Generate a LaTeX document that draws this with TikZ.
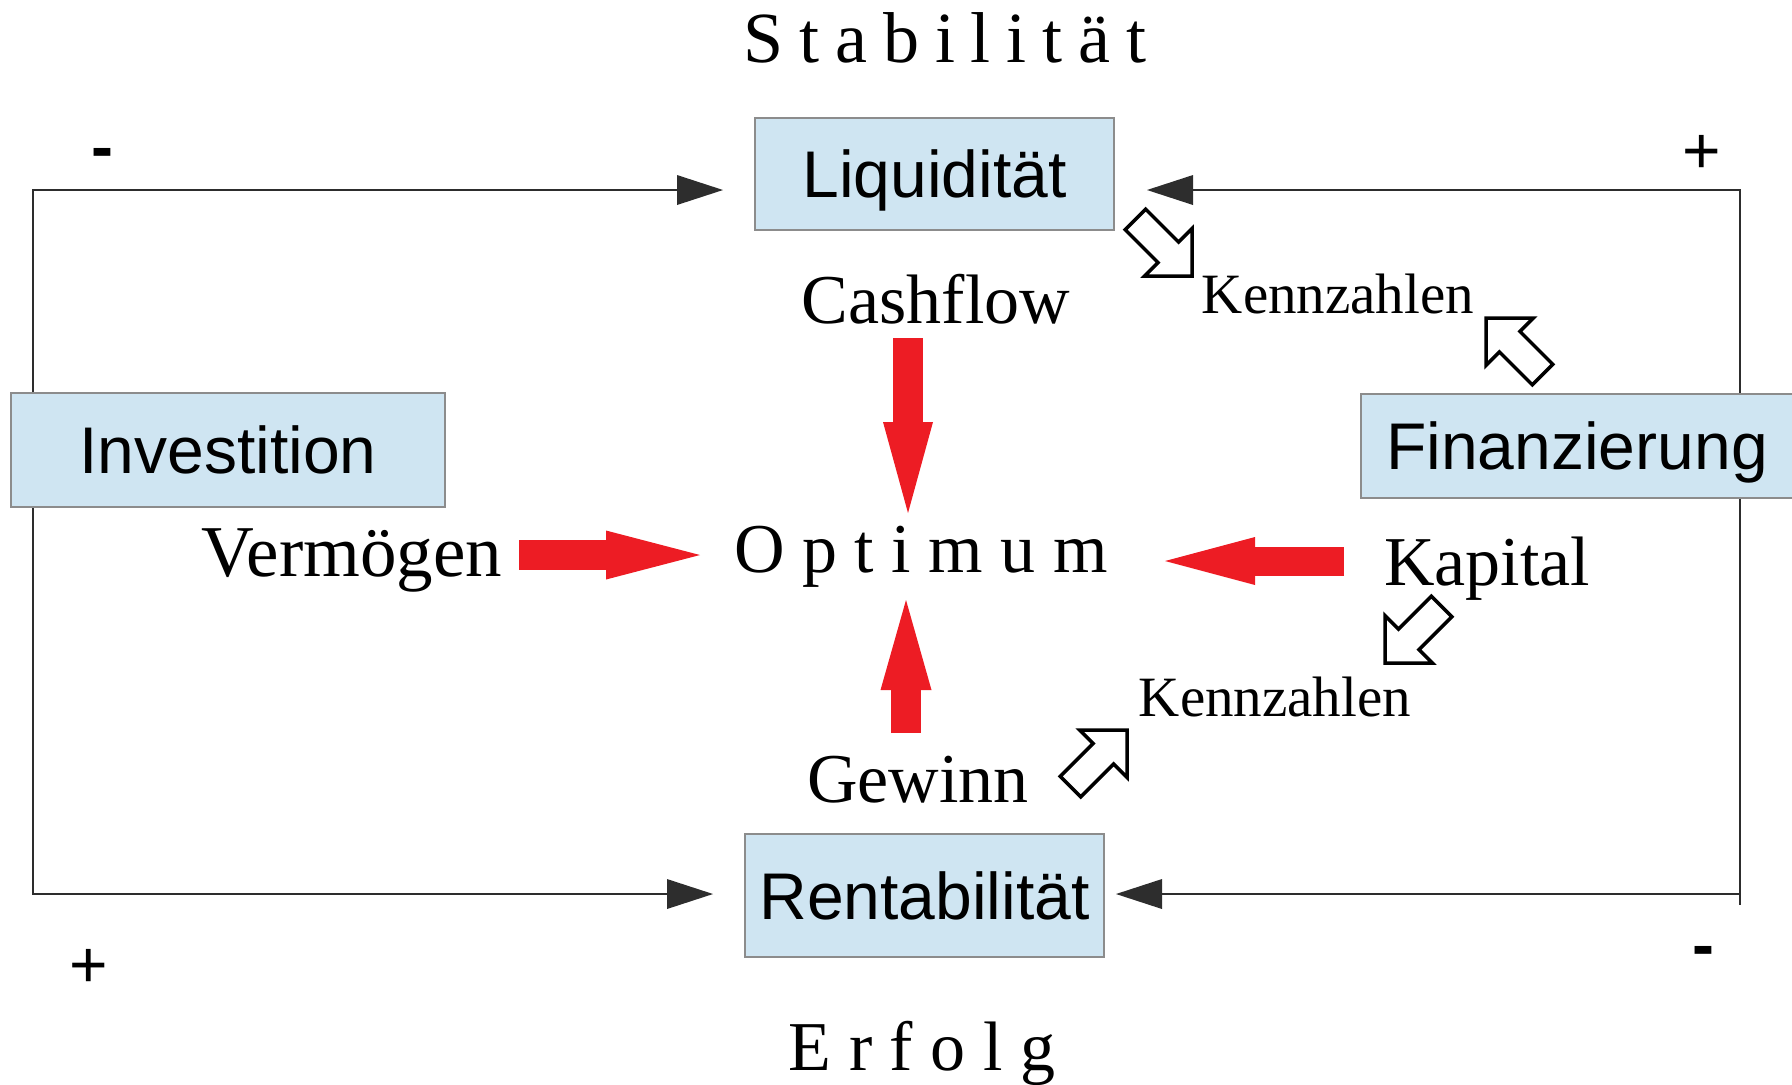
\documentclass[tikz,border=0pt]{standalone}
\usepackage{fontspec}
\setmainfont{Liberation Serif}
\setsansfont{Liberation Sans}
\usetikzlibrary{arrows.meta}
\definecolor{boxfill}{RGB}{207,229,242}
\definecolor{boxline}{RGB}{140,140,140}
\definecolor{loopc}{RGB}{45,45,45}
\definecolor{redc}{RGB}{237,28,36}
\newcommand\lsp{\hspace{7.9pt}}
\begin{document}
\begin{tikzpicture}[x=0.5pt,y=-0.5pt,
  box/.style={draw=boxline, line width=1pt, fill=boxfill, inner sep=0pt,
    font=\sffamily\fontsize{33}{38}\selectfont, text height=23.6pt, text depth=0pt},
  lbl/.style={inner sep=0pt, anchor=base, font=\fontsize{35}{40}\selectfont},
  smalllbl/.style={inner sep=0pt, anchor=base, font=\fontsize{28.5}{32}\selectfont},
  sign/.style={inner sep=0pt, anchor=base, font=\sffamily\fontsize{33}{38}\selectfont},
  loopline/.style={draw=loopc, line width=1.25pt, line join=miter},
  looptip/.style={-{Triangle[length=23pt,width=15pt,line width=0pt]}},
  redar/.style={draw=redc, line width=15pt},
  hollowline/.style={draw=black, fill=white, line width=1.75pt, line join=miter},
  hollowarrow/.pic={\path[hollowline] (0,0) -- (-33.5,33.5) -- (-33.5,14.5) -- (-80,14.5)
     -- (-80,-14.5) -- (-33.5,-14.5) -- (-33.5,-33.5) -- cycle;}
]
\useasboundingbox (0,0) rectangle (1792,1084);

% boxes
\node[box, minimum width=179.5pt, minimum height=56pt] (liq) at (934.5,174) {Liquidität};
\node[box, minimum width=217pt, minimum height=57pt] (inv) at (228,450) {Investition};
\node[box, minimum width=216pt, minimum height=52pt] (fin) at (1577,446) {Finanzierung};
\node[box, minimum width=179.5pt, minimum height=61.5pt] (ren) at (924.5,895.5) {Rentabilität};

% texts
\node[lbl, font=\fontsize{36}{40}\selectfont] (stab) at (945,62) {S\lsp t\lsp a\lsp b\lsp i\lsp l\lsp i\lsp t\lsp ä\lsp t};
\node[lbl] (opt) at (921,572) {O p t i m u m};
\node[lbl] (erf) at (922,1070) {E r f o l g};
\node[lbl] (cash) at (936,323) {Cashflow};
\node[lbl, font=\fontsize{36.5}{40}\selectfont] (verm) at (352,576) {Vermögen};
\node[lbl] (kap) at (1487,585) {Kapital};
\node[lbl] (gew) at (918,802) {Gewinn};
\node[smalllbl] (kz1) at (1338,313.5) {Kennzahlen};
\node[smalllbl] (kz2) at (1275,716) {Kennzahlen};

% signs
\node[sign, font=\sffamily\bfseries\fontsize{33}{38}\selectfont] (s1) at (102,169) {-};
\node[sign] (s2) at (1702,173) {+};
\node[sign] (s3) at (89,987) {+};
\node[sign, font=\sffamily\bfseries\fontsize{33}{38}\selectfont] (s4) at (1703,967) {-};

% loop coordinates
\coordinate (lt) at (33,190);
\coordinate (lb) at (33,894);
\coordinate (rt) at (1740,190);
\coordinate (rb) at (1740,894);
\coordinate (rend) at (1740,905);
\coordinate (liqin) at (723,190);
\coordinate (liqout) at (1147,190);
\coordinate (renin) at (713,894);
\coordinate (renout) at (1116,894);

\draw[loopline, looptip] (inv.north -| lt) -- (lt) -- (liqin);
\draw[loopline, looptip] (inv.south -| lb) -- (lb) -- (renin);
\draw[loopline, looptip] (fin.north -| rt) -- (rt) -- (liqout);
\draw[loopline] (fin.south -| rt) -- (rend);
\draw[loopline, looptip] (rb) -- (renout);

% red arrows
\coordinate (cfs) at (908,338); \coordinate (cfe) at (908,513);
\coordinate (gws) at (906,733); \coordinate (gwe) at (906,600);
\coordinate (vms) at (519,555); \coordinate (vme) at (700,555);
\coordinate (kps) at (1344,561); \coordinate (kpe) at (1165,561);
\draw[redar, -{Triangle[length=45.5pt,width=25pt,line width=0pt]}] (cfs) -- (cfe);
\draw[redar, -{Triangle[length=45pt,width=25.5pt,line width=0pt]}] (gws) -- (gwe);
\draw[redar, -{Triangle[length=47pt,width=24.5pt,line width=0pt]}] (vms) -- (vme);
\draw[redar, line width=14.5pt, -{Triangle[length=45pt,width=24pt,line width=0pt]}] (kps) -- (kpe);

% hollow arrows
\pic[rotate=-45] at (1192,276) {hollowarrow};
\pic[rotate=135] at (1486,318) {hollowarrow};
\pic[rotate=-135] at (1385,663) {hollowarrow};
\pic[rotate=45] at (1127,730) {hollowarrow};
\end{tikzpicture}
\end{document}
